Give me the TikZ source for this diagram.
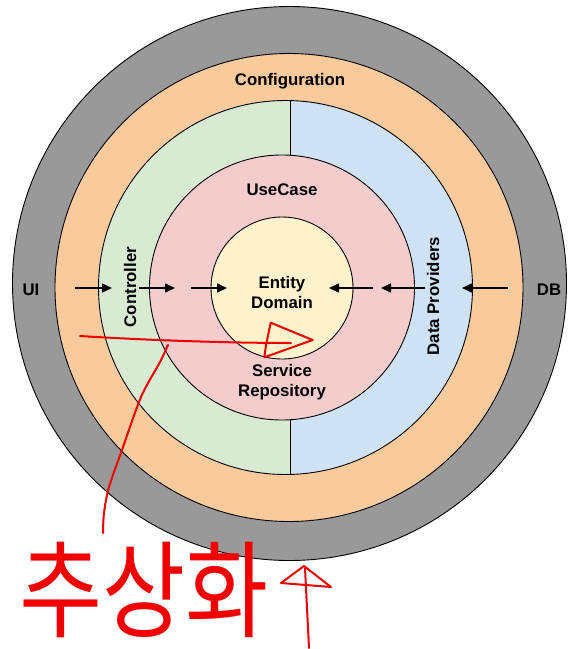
\documentclass[tikz,border=0pt]{standalone}
\usepackage{fontspec}
\setmainfont{Liberation Sans}
\newfontfamily\cjk{Noto Sans CJK KR}
\usetikzlibrary{arrows.meta}
\definecolor{ringgray}{HTML}{999999}
\definecolor{ringorange}{HTML}{F9CB9C}
\definecolor{ringgreen}{HTML}{D9EAD3}
\definecolor{ringblue}{HTML}{CFE2F3}
\definecolor{ringpink}{HTML}{F4CCCC}
\definecolor{ringyellow}{HTML}{FFF2CC}
\definecolor{pen}{HTML}{F00000}
\begin{document}
\begin{tikzpicture}[x=1pt,y=-1pt,
  ring/.style={draw=black, line width=0.9pt},
  lbl/.style={font=\fontsize{16.8}{20}\selectfont\bfseries, align=center, inner sep=0pt},
  dep/.style={-{Triangle[length=10pt,width=9pt]}, line width=1.5pt},
  ink/.style={draw=pen, line width=2pt, line cap=round, line join=round}]
\useasboundingbox (0,0) rectangle (581,649);
\fill[white] (0,0) rectangle (581,649);
% rings
\draw[ring, fill=ringgray] (289.5,283.5) circle[radius=277];
\draw[ring, fill=ringorange] (289,287.5) circle[radius=234];
\begin{scope}
  \clip (285.5,287.5) circle[radius=187];
  \fill[ringgreen] (90,90) rectangle (290,490);
  \fill[ringblue] (290,90) rectangle (480,490);
  \draw[line width=0.9pt] (290,90) -- (290,490);
\end{scope}
\draw[ring] (285.5,287.5) circle[radius=187];
\draw[ring, fill=ringpink] (282,287.5) circle[radius=132.5];
\draw[ring, fill=ringyellow] (282,288) circle[radius=71];
% labels
\node[lbl] (conf) at (290,81) {Configuration};
\node[lbl] (uc) at (282,190) {UseCase};
\node[lbl] (ent) at (282,292) {Entity\\Domain};
\node[lbl] (svc) at (282,382) {Service\\Repository};
\node[lbl] (ui) at (31,290) {UI};
\node[lbl] (db) at (549,290) {DB};
\node[lbl, rotate=90] (ctrl) at (130,287) {Controller};
\node[lbl, rotate=90] (dp) at (433,296) {Data Providers};
% dependency arrows
\coordinate (l1s) at (75,288);  \coordinate (l1e) at (112,288);
\coordinate (l2s) at (139,288); \coordinate (l2e) at (175,288);
\coordinate (l3s) at (191,288); \coordinate (l3e) at (227,288);
\coordinate (r1s) at (373,288); \coordinate (r1e) at (329,288);
\coordinate (r2s) at (425,288); \coordinate (r2e) at (381,288);
\coordinate (r3s) at (508,288); \coordinate (r3e) at (462,288);
\draw[dep] (l1s) -- (l1e);
\draw[dep] (l2s) -- (l2e);
\draw[dep] (l3s) -- (l3e);
\draw[dep] (r1s) -- (r1e);
\draw[dep] (r2s) -- (r2e);
\draw[dep] (r3s) -- (r3e);
% red handwritten annotation
\coordinate (hs) at (80,336);
\coordinate (he) at (291,343);
\draw[ink] (hs) .. controls (160,341) and (240,343) .. (he);
\draw[ink] (270.7,322.7) -- (266,345) -- (264.3,357.3) -- (312.7,340) -- cycle;
\draw[ink] plot[smooth] coordinates {(168,345) (160,362) (141,397) (122,450) (109,487) (104,513) (103,533)};
\node[text=pen, font=\cjk\fontsize{80}{80}\selectfont, inner sep=0pt] (abs) at (144,590) {\scalebox{1.13}[1.32]{추상화}};
\coordinate (ut) at (305,568);
\coordinate (ub) at (309,648);
\draw[ink] (ut) -- (ub);
\draw[ink] (281,583) -- (304,566) -- (331,587) -- cycle;
\end{tikzpicture}
\end{document}
